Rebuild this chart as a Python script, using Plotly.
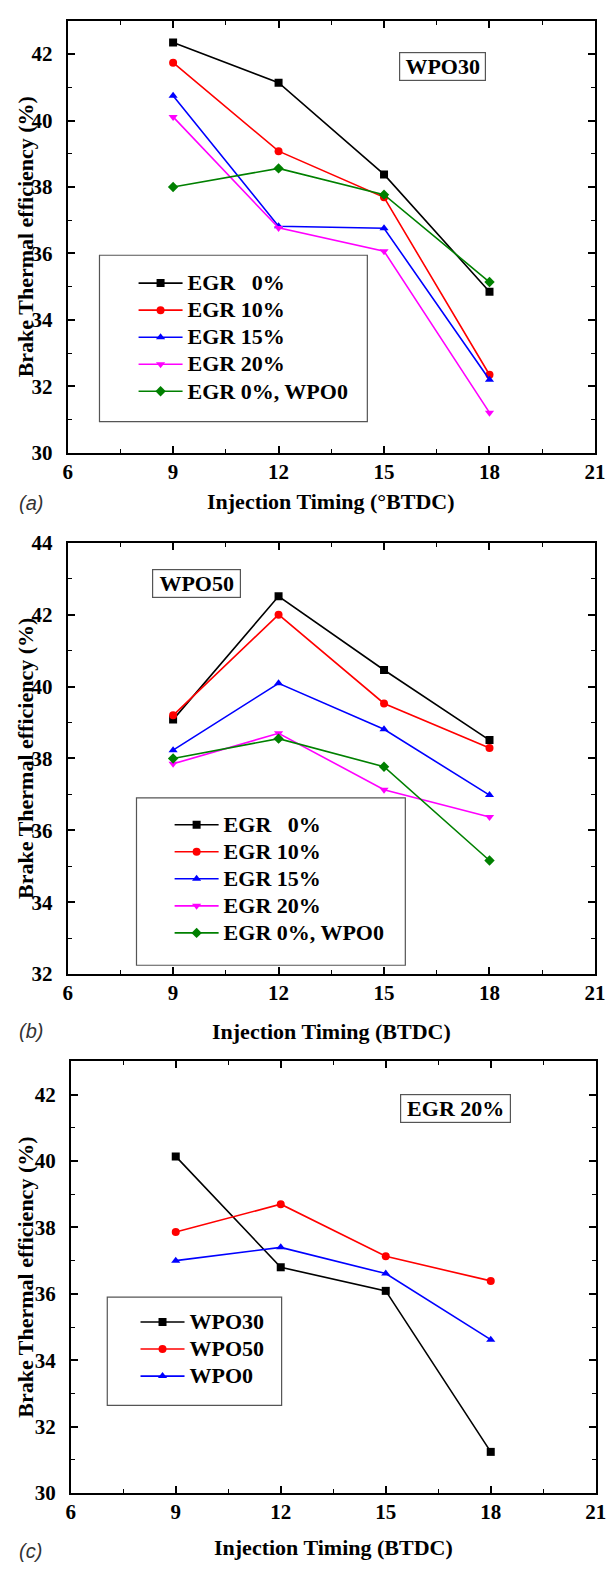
import plotly.graph_objects as go

W, H = 616, 1573

# ---------------- data ----------------
timing = [9, 12, 15, 18]

# (a) WPO30
a_egr0 = [42.35, 41.14, 38.38, 34.85]
a_egr10 = [41.74, 39.08, 37.69, 32.35]
a_egr15 = [40.75, 36.82, 36.76, 32.20]
a_egr20 = [40.11, 36.77, 36.07, 31.21]
a_wpo0 = [38.00, 38.56, 37.77, 35.14]

# (b) WPO50
b_egr0 = [39.08, 42.51, 40.46, 38.51]
b_egr10 = [39.20, 42.00, 39.53, 38.29]
b_egr15 = [38.23, 40.09, 38.81, 36.98]
b_egr20 = [37.85, 38.70, 37.13, 36.37]
b_wpo0 = [38.00, 38.55, 37.77, 35.16]

# (c) EGR 20%
c_wpo30 = [40.14, 36.80, 36.09, 31.24]
c_wpo50 = [37.86, 38.70, 37.13, 36.39]
c_wpo0 = [37.00, 37.40, 36.61, 34.62]

names_ab = ["EGR\u00a0\u00a0\u00a00%", "EGR 10%", "EGR 15%", "EGR 20%", "EGR 0%, WPO0"]
names_c = ["WPO30", "WPO50", "WPO0"]
colors_ab = ["#000000", "#ff0000", "#0000ff", "#ff00ff", "#008000"]
colors_c = ["#000000", "#ff0000", "#0000ff"]
symbols_ab = ["square", "circle", "triangle-up", "triangle-down", "diamond"]
symbols_c = ["square", "circle", "triangle-up"]

SERIF = "Liberation Serif"

def px(x):
    return x / W

def py(y):
    return 1 - y / H

fig = go.Figure()

def add_series(xa, ya, ys, name, color, symbol, legend):
    fig.add_trace(go.Scatter(
        x=timing, y=ys, name='<span style="font-size:22px">' + name + '</span>',
        mode="lines+markers", xaxis=xa, yaxis=ya, legend=legend,
        line=dict(color=color, width=1.6),
        marker=dict(symbol=symbol, size=8, color=color),
    ))

for ys, n, c, s in zip([a_egr0, a_egr10, a_egr15, a_egr20, a_wpo0], names_ab, colors_ab, symbols_ab):
    add_series("x", "y", ys, n, c, s, "legend")
for ys, n, c, s in zip([b_egr0, b_egr10, b_egr15, b_egr20, b_wpo0], names_ab, colors_ab, symbols_ab):
    add_series("x2", "y2", ys, n, c, s, "legend2")
for ys, n, c, s in zip([c_wpo30, c_wpo50, c_wpo0], names_c, colors_c, symbols_c):
    add_series("x3", "y3", ys, n, c, s, "legend3")

tickfont = dict(family=SERIF, size=21, color="#000", weight="bold")

def xaxis(dom, anchor):
    return dict(domain=dom, anchor=anchor, range=[6, 21], tick0=6, dtick=3,
                showline=True, linecolor="#000", linewidth=1.8, mirror="allticks",
                ticks="inside", ticklen=7, tickwidth=1.6, tickcolor="#000",
                minor=dict(dtick=1.5, tick0=6, ticks="inside", ticklen=4, tickwidth=1.4, tickcolor="#000"),
                showgrid=False, zeroline=False, tickfont=tickfont, ticklabelstandoff=-1,
                ticklabeloverflow="allow")

def yaxis(dom, anchor, rng):
    return dict(domain=dom, anchor=anchor, range=rng, tick0=30, dtick=2,
                showline=True, linecolor="#000", linewidth=1.8, mirror="allticks",
                ticks="inside", ticklen=7, tickwidth=1.6, tickcolor="#000",
                minor=dict(dtick=1, ticks="inside", ticklen=4, tickwidth=1.4, tickcolor="#000"),
                showgrid=False, zeroline=False, tickfont=tickfont, ticklabelstandoff=9,
                ticklabeloverflow="allow")

xa_dom = [px(64.3), px(605.7)]
xc_dom = [px(67.5), px(606.5)]

legfont = dict(family=SERIF, size=18.5, color="#000", weight="bold")

def legend(x, y):
    return dict(x=px(x), y=py(y), xanchor="left", yanchor="top", bgcolor="rgba(0,0,0,0)",
                borderwidth=0, font=legfont, tracegroupgap=0, itemwidth=44)

fig.update_layout(
    width=W, height=H, margin=dict(l=0, r=0, t=0, b=0),
    paper_bgcolor="white", plot_bgcolor="white",
    xaxis=xaxis(xa_dom, "y"),
    yaxis=yaxis([py(447.7), py(9)], "x", [30, 43]),
    xaxis2=xaxis(xa_dom, "y2"),
    yaxis2=yaxis([py(977), py(539)], "x2", [32, 44]),
    xaxis3=xaxis(xc_dom, "y3"),
    yaxis3=yaxis([py(1504), py(1065.7)], "x3", [30, 43]),
    legend=legend(132, 256.5),
    legend2=legend(169, 806.5),
    legend3=legend(134, 1311.5),
    showlegend=True,
)

# legend boxes
for (x0, y0, x1, y1) in [(97, 247, 372, 416), (135, 798, 411, 968), (105, 1305, 284, 1415)]:
    fig.add_shape(type="rect", xref="paper", yref="paper",
                  x0=px(x0), x1=px(x1), y0=py(y1), y1=py(y0),
                  line=dict(color="#555", width=1.2), fillcolor="rgba(0,0,0,0)")

labfont = dict(family=SERIF, size=22, color="#000", weight="bold")

# boxed labels
for txt, cx, cy, w in [("WPO30", 449.5, 55, 85), ("WPO50", 196.5, 580.5, 87), ("EGR 20%", 462.5, 1113.5, 109)]:
    fig.add_annotation(text=txt, xref="paper", yref="paper", x=px(cx), y=py(cy),
                       xanchor="center", yanchor="middle", showarrow=False,
                       font=labfont, bordercolor="#555", borderwidth=1.2, borderpad=0,
                       bgcolor="white", width=w, height=27)

# axis titles and panel letters
xtitles = [("Injection Timing (°BTDC)", 497), ("Injection Timing (BTDC)", 1035), ("Injection Timing (BTDC)", 1559)]
for (txt, y), dom in zip(xtitles, [xa_dom, xa_dom, xc_dom]):
    fig.add_annotation(text=txt, xref="paper", yref="paper", x=(dom[0] + dom[1]) / 2, y=py(y),
                       xanchor="center", yanchor="middle", showarrow=False, font=labfont)

for cy in [(9 + 447.7) / 2, (539 + 977) / 2, (1065.7 + 1504) / 2]:
    fig.add_annotation(text="Brake Thermal efficiency (%)", xref="paper", yref="paper",
                       x=px(21), y=py(cy), xanchor="center", yanchor="middle",
                       textangle=-90, showarrow=False, font=labfont)

for txt, y in [("(a)", 499), ("(b)", 1035), ("(c)", 1563)]:
    fig.add_annotation(text=txt, xref="paper", yref="paper", x=px(12), y=py(y),
                       xanchor="left", yanchor="middle", showarrow=False,
                       font=dict(family="Liberation Sans", size=20, color="#333", style="italic"))

fig.write_html("out.html")
